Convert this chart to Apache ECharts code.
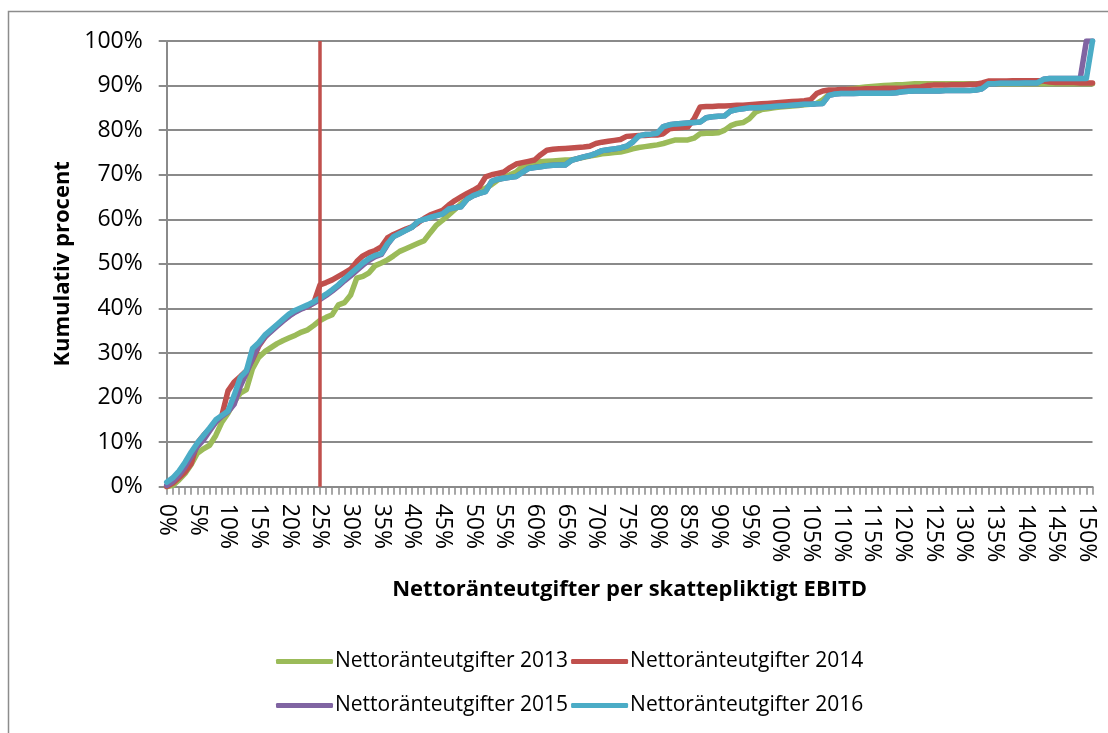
<!DOCTYPE html>
<html>
<head>
<meta charset="utf-8">
<script src="https://cdn.jsdelivr.net/npm/echarts@6/dist/echarts.min.js"></script>
<style>
html,body{margin:0;padding:0;background:#fff;}
#chart{width:1108px;height:733px;}
</style>
</head>
<body>
<div id="chart"></div>
<script>
// Categories: net interest expense as share of taxable EBITD (0% .. 151%)
var categories = [];
for (var i = 0; i <= 151; i++) { categories.push(i + '%'); }
var xTickLabelStep = 5;
var yTicks = [0, 10, 20, 30, 40, 50, 60, 70, 80, 90, 100];

var seriesNames = ['Nettoränteutgifter 2013', 'Nettoränteutgifter 2014', 'Nettoränteutgifter 2015', 'Nettoränteutgifter 2016'];

var values2013 = [0,0.3,1.5,3.0,5.0,7.5,8.5,9.3,11.5,14.5,
16.5,19.0,21.0,21.8,26.5,29.0,30.3,31.2,32.1,32.8,
33.4,34.0,34.7,35.2,36.2,37.3,38.0,38.6,40.8,41.3,
43.0,46.8,47.2,48.0,49.6,50.2,50.9,51.8,52.8,53.4,
54.0,54.6,55.2,57.0,58.7,59.8,61.0,62.2,63.5,64.5,
65.4,66.3,67.0,67.8,68.8,69.4,70.0,70.6,71.8,72.2,
72.6,72.9,73.0,73.1,73.2,73.3,73.3,73.6,73.9,74.2,
74.4,74.7,74.8,75.0,75.1,75.4,75.8,76.1,76.3,76.5,
76.7,77.0,77.4,77.8,77.8,77.8,78.2,79.2,79.3,79.3,
79.4,80.0,81.0,81.5,81.7,82.5,84.0,84.6,84.8,85.0,
85.2,85.3,85.4,85.5,85.7,85.8,86.0,86.8,88.0,88.6,
88.9,89.1,89.3,89.5,89.7,89.8,89.9,90.0,90.1,90.2,
90.2,90.3,90.4,90.4,90.4,90.4,90.4,90.4,90.4,90.4,
90.4,90.4,90.4,90.4,90.4,90.4,90.4,90.4,90.4,90.4,
90.4,90.4,90.4,90.4,90.4,90.4,90.4,90.4,90.4,90.4,
90.4,90.4];

var values2014 = [0,0.8,2.0,3.3,5.2,9.8,11.5,13.0,14.5,16.0,
21.5,23.5,24.7,26.0,28.5,31.5,33.5,35.0,36.2,37.3,
38.4,39.3,40.0,40.4,41.3,45.3,45.8,46.4,47.2,48.0,
48.8,50.5,51.8,52.5,53.0,53.8,55.8,56.6,57.2,57.8,
58.3,59.2,60.2,61.0,61.5,62.0,63.2,64.2,65.0,65.8,
66.5,67.3,69.5,70.0,70.3,70.6,71.6,72.4,72.7,73.0,
73.3,74.5,75.5,75.7,75.8,75.9,76.0,76.1,76.2,76.4,
77.0,77.3,77.5,77.7,77.9,78.6,78.7,78.8,78.8,78.9,
78.9,79.2,80.3,80.5,80.6,80.7,82.5,85.2,85.3,85.3,
85.4,85.4,85.5,85.6,85.6,85.7,85.8,85.9,86.0,86.1,
86.2,86.3,86.4,86.5,86.6,86.8,88.2,88.8,89.0,89.0,
89.1,89.1,89.2,89.2,89.3,89.3,89.3,89.4,89.4,89.4,
89.4,89.5,89.6,89.7,90.0,90.1,90.1,90.1,90.2,90.2,
90.2,90.3,90.3,90.6,91.0,91.0,91.0,91.0,91.1,91.1,
91.1,91.1,91.1,91.0,90.8,90.7,90.7,90.7,90.7,90.6,
90.6,90.6];

var values2015 = [0.3,1.2,2.6,4.5,6.8,9.0,10.5,12.5,14.5,15.8,
16.8,18.5,22.5,25.5,28.8,31.8,33.6,34.8,36.0,37.2,
38.3,39.2,39.9,40.5,41.2,42.0,42.9,43.9,45.0,46.2,
47.3,48.5,49.7,50.8,51.6,52.1,54.3,56.1,56.8,57.5,
58.2,59.5,60.0,60.4,60.8,61.2,62.3,62.6,62.8,64.5,
65.3,65.8,66.2,68.5,69.0,69.2,69.4,69.6,70.5,71.4,
71.6,71.8,72.0,72.1,72.2,72.2,73.2,73.6,74.0,74.3,
74.8,75.4,75.6,75.8,76.0,76.4,77.3,78.7,79.0,79.1,
79.3,80.8,81.2,81.4,81.5,81.6,81.7,81.8,82.8,83.0,
83.1,83.2,84.3,84.6,84.8,85.0,85.0,85.1,85.2,85.3,
85.4,85.5,85.6,85.7,85.8,85.8,85.9,86.0,87.8,88.1,
88.2,88.2,88.2,88.3,88.3,88.3,88.3,88.3,88.3,88.4,
88.6,88.7,88.8,88.8,88.8,88.8,88.8,88.9,88.9,88.9,
88.9,88.9,89.0,89.3,90.4,90.4,90.5,90.5,90.5,90.5,
90.6,90.6,90.6,91.4,91.6,91.6,91.6,91.6,91.6,91.6,
100,100];

var values2016 = [1.0,2.0,3.5,5.5,7.8,9.8,11.5,13.2,15.0,16.0,
17.0,20.5,24.5,26.0,31.0,32.3,34.0,35.2,36.4,37.6,
38.8,39.6,40.2,40.8,41.5,42.3,43.2,44.2,45.3,46.6,
47.8,49.0,50.2,51.2,51.9,52.3,54.5,56.1,56.8,57.5,
58.2,59.5,60.0,60.4,60.8,61.2,62.3,62.6,62.8,64.5,
65.3,65.8,66.2,68.5,69.0,69.2,69.4,69.6,70.5,71.4,
71.6,71.8,72.0,72.1,72.2,72.2,73.2,73.6,74.0,74.3,
74.8,75.4,75.6,75.8,76.0,76.4,77.3,78.7,79.0,79.1,
79.3,80.8,81.2,81.4,81.5,81.6,81.7,81.8,82.8,83.0,
83.1,83.2,84.3,84.6,84.8,85.0,85.0,85.1,85.2,85.3,
85.4,85.5,85.6,85.7,85.8,85.8,85.9,86.0,87.8,88.1,
88.2,88.2,88.2,88.3,88.3,88.3,88.3,88.3,88.3,88.4,
88.6,88.7,88.8,88.8,88.8,88.8,88.8,88.9,88.9,88.9,
88.9,88.9,89.0,89.3,90.4,90.4,90.5,90.5,90.5,90.5,
90.6,90.6,90.6,91.4,91.6,91.6,91.6,91.6,91.6,91.6,
91.6,100];

var thresholdCategory = '25%';

var colors = ['#9BBB59', '#C0504D', '#8064A2', '#4BACC6'];
var gridColor = '#8a8a8a';
var font = 'Open Sans';

function lineSeries(name, data, color) {
  return {
    name: name, type: 'line', data: data, showSymbol: false, symbol: 'none',
    lineStyle: { color: color, width: 5.5, cap: 'round', join: 'round' },
    itemStyle: { color: color },
    emphasis: { disabled: true }
  };
}

function legendRow(names, top) {
  return {
    data: names.map(function (n) { return { name: n, icon: 'roundRect' }; }),
    left: 271, top: top, itemWidth: 57, itemHeight: 5, itemGap: 3,
    selectedMode: false,
    textStyle: { fontFamily: font, fontSize: 21, color: '#000', padding: [0, 0, 0, -3] }
  };
}

var chart = echarts.init(document.getElementById('chart'), null, { renderer: 'canvas' });
chart.setOption({
  animation: false,
  backgroundColor: '#ffffff',
  graphic: [{
    type: 'rect', silent: true, z: -10,
    shape: { x: 8.5, y: 11.5, width: 1200, height: 800 },
    style: { fill: 'none', stroke: '#8c8c8c', lineWidth: 1.5 }
  }],
  grid: { left: 166.7, right: 15.5, top: 41, bottom: 246.3, containLabel: false },
  legend: [legendRow([seriesNames[0], seriesNames[1]], 646), legendRow([seriesNames[2], seriesNames[3]], 690)],
  xAxis: {
    type: 'category', data: categories, boundaryGap: false,
    name: 'Nettoränteutgifter per skattepliktigt EBITD',
    nameLocation: 'middle', nameGap: 92,
    nameTextStyle: { fontFamily: font, fontSize: 22, fontWeight: 'bold', color: '#000' },
    axisLine: { lineStyle: { color: gridColor, width: 2 } },
    axisTick: { show: true, interval: 0, length: 8, lineStyle: { color: gridColor, width: 1.5 } },
    axisLabel: {
      interval: xTickLabelStep - 1, rotate: -90, margin: 17,
      fontFamily: font, fontSize: 23, color: '#000'
    },
    splitLine: { show: false }
  },
  yAxis: {
    type: 'value', min: yTicks[0], max: yTicks[yTicks.length - 1], interval: yTicks[1] - yTicks[0],
    name: 'Kumulativ procent', nameLocation: 'middle', nameGap: 92, nameRotate: 90,
    nameTextStyle: { fontFamily: font, fontSize: 22, fontWeight: 'bold', color: '#000' },
    axisLine: { show: true, lineStyle: { color: gridColor, width: 2 } },
    axisTick: { show: true, length: 8, lineStyle: { color: gridColor, width: 2 } },
    axisLabel: { formatter: '{value}%', margin: 24, fontFamily: font, fontSize: 23, color: '#000' },
    splitLine: { show: true, lineStyle: { color: gridColor, width: 2 } }
  },
  series: [
    lineSeries(seriesNames[0], values2013, colors[0]),
    lineSeries(seriesNames[1], values2014, colors[1]),
    lineSeries(seriesNames[2], values2015, colors[2]),
    lineSeries(seriesNames[3], values2016, colors[3]),
    {
      name: 'threshold', type: 'line', data: [], z: 5,
      markLine: {
        silent: true, symbol: ['none', 'none'], label: { show: false },
        lineStyle: { color: '#C0504D', width: 3.5, type: 'solid' },
        emphasis: { disabled: true },
        data: [{ xAxis: thresholdCategory }]
      }
    }
  ]
});
</script>
</body>
</html>
